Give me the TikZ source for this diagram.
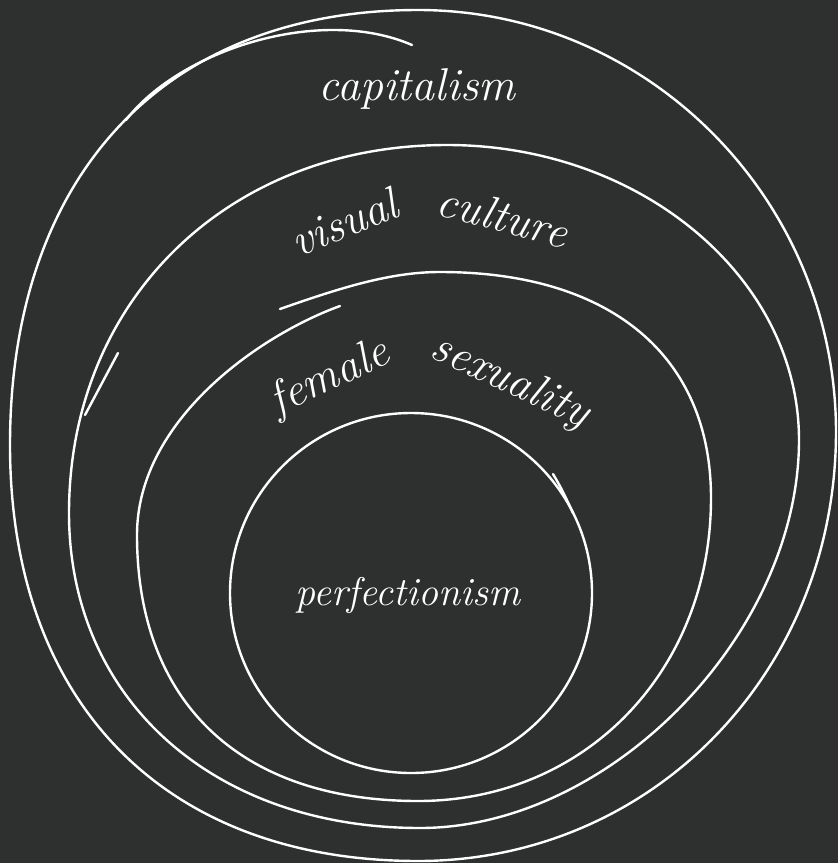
\documentclass[tikz,border=0pt]{standalone}
\usepackage{tikz}
\definecolor{boardGray}{HTML}{2E3030}

\begin{document}
\begin{tikzpicture}[x=1pt,y=-1pt,
  ring/.style={white,line width=2.4pt,line cap=round,line join=round},
  word/.style={white,inner sep=0pt,font=\fontsize{46}{50}\selectfont\itshape}]
\fill[boardGray] (0,0) rectangle (838,863);
\useasboundingbox (0,0) rectangle (838,863);

% outer ring: capitalism
\draw[ring] (418,10) .. controls (648,10) and (836,200) .. (836,432)
  .. controls (836,672) and (652,861) .. (418,861)
  .. controls (165,861) and (10,703) .. (10,445)
  .. controls (10,175) and (165,10) .. (418,10);
\draw[ring] (126,120) .. controls (180,50) and (320,5) .. (412,45);

% second ring: visual culture
\draw[ring] (447,145) .. controls (641,145) and (799,278) .. (799,440)
  .. controls (799,634) and (610,828) .. (420,828)
  .. controls (213,828) and (69,699) .. (69,513)
  .. controls (69,300) and (228,145) .. (447,145);
\draw[ring] (118,353) -- (85,415);

% third ring: female sexuality
\draw[ring] (280,309) .. controls (340,288) and (390,272) .. (440,272)
  .. controls (611,272) and (711,356) .. (711,498)
  .. controls (711,671) and (585,801) .. (418,801)
  .. controls (241,801) and (137,703) .. (137,535)
  .. controls (137,420) and (260,335) .. (340,306);

% inner ring: perfectionism
\draw[ring] (411,593) ellipse (181 and 180);
\draw[ring] (553,474) .. controls (561,487) and (567,500) .. (573,513);

% labels
\node[word] (capitalism) at (417,89) {capitalism};
\node[word,rotate=22] (visual) at (344,222) {visual};
\node[word,rotate=-15] (culture) at (503,216) {culture};
\node[word,rotate=25] (female) at (330,378) {female};
\node[word,rotate=-25] (sexuality) at (510,382) {sexuality};
\node[word,font=\fontsize{40}{44}\selectfont\itshape] (perfectionism) at (408,595) {perfectionism};
\end{tikzpicture}
\end{document}
